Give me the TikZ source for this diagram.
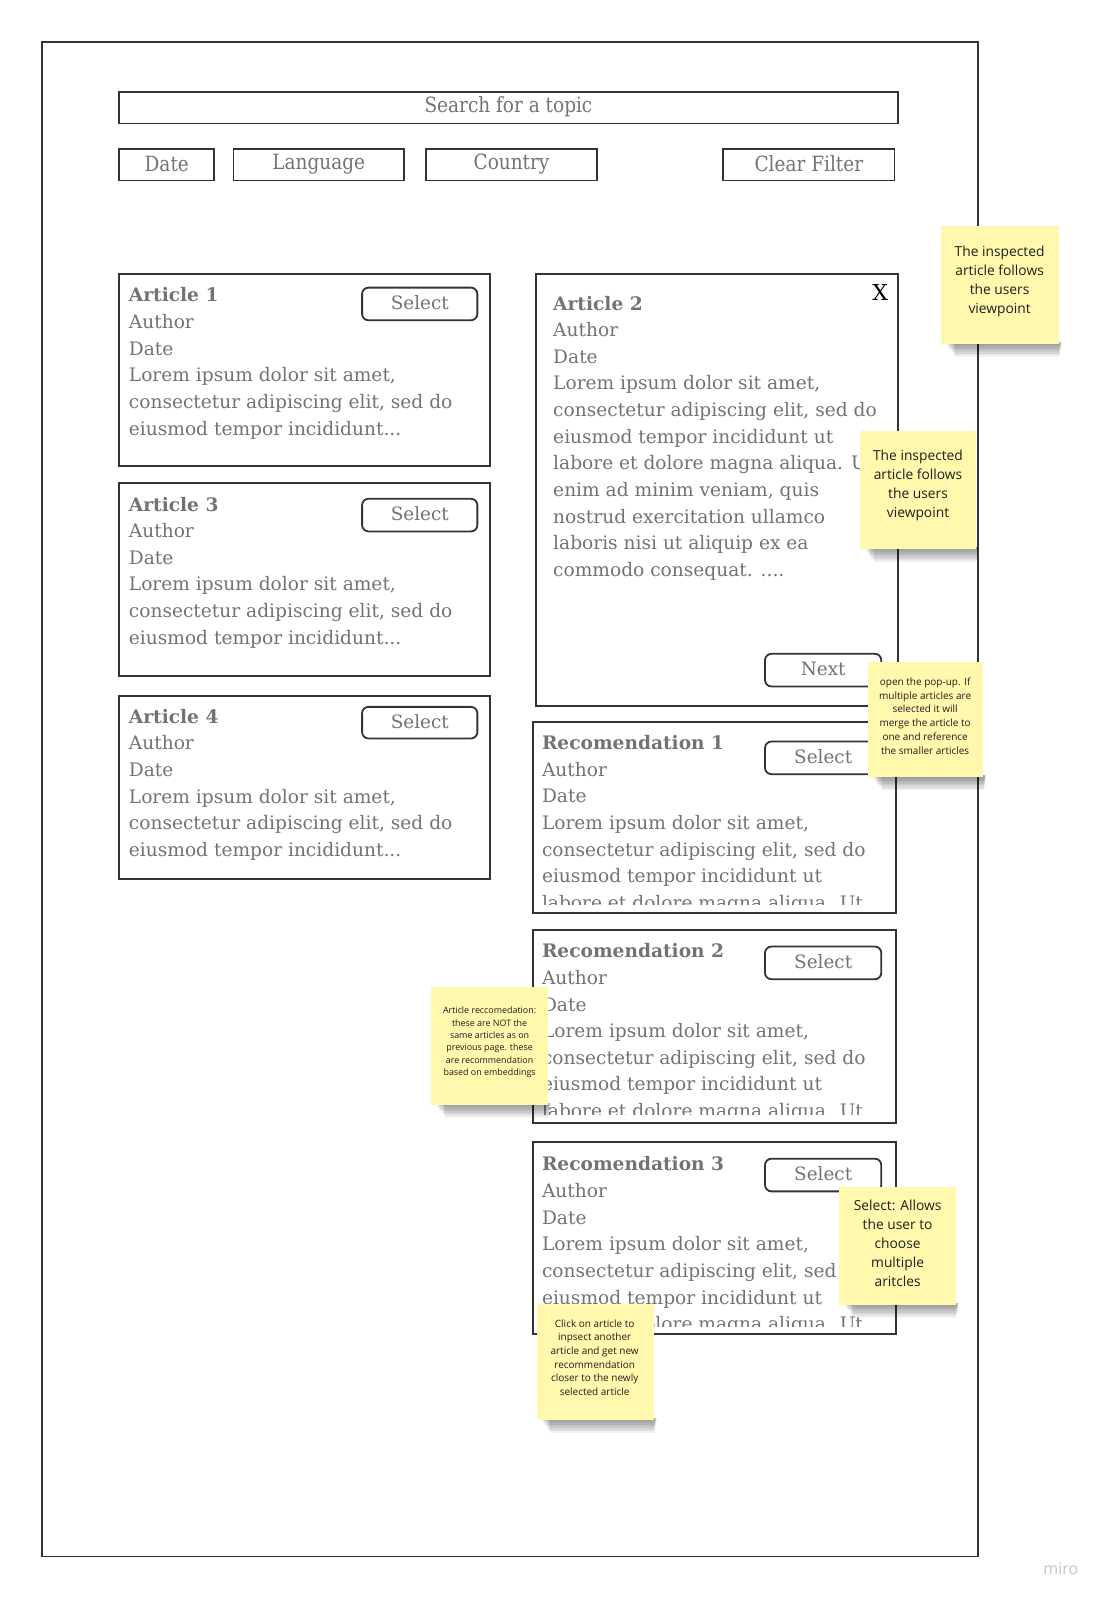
\documentclass[tikz,border=0pt]{standalone}
\usepackage{fontspec}
\setmainfont{DejaVu Serif}
\newfontfamily\notefont{Open Sans}
\newfontfamily\condfont[FakeStretch=0.88]{DejaVu Serif}
\usetikzlibrary{fit}
\definecolor{frame}{HTML}{333333}
\definecolor{txt}{HTML}{737373}
\definecolor{sticky}{HTML}{FFF8AD}
\definecolor{notetext}{HTML}{1E1E1E}
\definecolor{mirogray}{HTML}{C4C4C4}

\newcommand\cardtext[5]{%
  \node[cardtitle] (#1-t) at (#2,#3) {#4};
  \foreach \myline [count=\k] in {#5} {
    \node[cardtxt] (#1-\k) at (#2,{#3+26.1*\k}) {\myline};
  }%
}
\newcommand\stickynote[5]{%
  \foreach \k in {1,...,8} {
    \fill[black,opacity=0.055] ({#2+4+1.2*\k},{#5-2}) rectangle ({#4+3-0.3*\k},{#5+1.6*\k});
  }
  \node[note, fit={(#2,#3) (#4,#5)}] (#1) {};
}
% #1 name, #2 style, #3-#6 corners, #7 text
\newcommand\labelbox[7]{%
  \node[#2, fit={(#3,#4) (#5,#6)}] (#1) {};
  \node[#2txt] (#1-l) at ({(#3+#5)/2},{(#4+#6)/2-1}) {#7};
}

\begin{document}
\begin{tikzpicture}[x=0.51pt,y=-0.51pt,
  frm/.style={draw=frame, line width=0.8pt, inner sep=0pt, outer sep=0pt},
  card/.style={draw=frame, line width=1pt, fill=white, inner sep=0pt, outer sep=0pt},
  btn/.style={draw=frame, line width=0.9pt, rounded corners=3.2pt, fill=white, inner sep=0pt, outer sep=0pt},
  btntxt/.style={inner sep=0pt, text=txt, font=\fontsize{9.2}{11}\selectfont},
  filt/.style={draw=frame, line width=0.9pt, fill=white, inner sep=0pt, outer sep=0pt},
  filttxt/.style={inner sep=0pt, text=txt, font=\condfont\fontsize{10.5}{12}\selectfont},
  cardtxt/.style={anchor=base west, inner sep=0pt, text=txt, font=\fontsize{9.3}{11}\selectfont},
  cardtitle/.style={cardtxt, font=\bfseries\fontsize{9.3}{11}\selectfont},
  note/.style={fill=sticky, inner sep=0pt, outer sep=0pt},
  notetxt/.style={align=center, inner sep=0pt, text=notetext},
  bignote/.style={notetxt, font=\notefont\fontsize{6.9}{9.6}\selectfont},
  smallnote/.style={notetxt, font=\notefont\fontsize{5.0}{6.85}\selectfont},
  tinynote/.style={notetxt, font=\notefont\fontsize{4.45}{6.2}\selectfont}
]
\fill[white] (0,0) rectangle (1082.35,1568.63);
\useasboundingbox (0,0) rectangle (1082.35,1568.63);

% outer frame
\node[frm, fit={(41,41) (959,1526)}] (outer) {};

% search and filters
\labelbox{search}{filt}{117}{90}{880}{121}{Search for a topic}
\labelbox{fdate}{filt}{117}{146}{210}{177}{Date}
\labelbox{flang}{filt}{229}{146}{396}{177}{Language}
\labelbox{fcountry}{filt}{418}{146}{585}{177}{Country}
\labelbox{fclear}{filt}{709}{146}{877}{177}{Clear Filter}

% Article 1
\node[card, fit={(117,269) (480,457)}] (a1) {};
\cardtext{a1t}{126}{296}{Article 1}{Author, Date, {Lorem ipsum dolor sit amet,}, {consectetur adipiscing elit, sed do}, {eiusmod tempor incididunt{...}}}
\labelbox{a1s}{btn}{355}{282}{468}{314}{Select}

% Article 3
\node[card, fit={(117,474) (480,663)}] (a3) {};
\cardtext{a3t}{126}{501}{Article 3}{Author, Date, {Lorem ipsum dolor sit amet,}, {consectetur adipiscing elit, sed do}, {eiusmod tempor incididunt{...}}}
\labelbox{a3s}{btn}{355}{489}{468}{521}{Select}

% Article 4
\node[card, fit={(117,682) (480,862)}] (a4) {};
\cardtext{a4t}{126}{709}{Article 4}{Author, Date, {Lorem ipsum dolor sit amet,}, {consectetur adipiscing elit, sed do}, {eiusmod tempor incididunt{...}}}
\labelbox{a4s}{btn}{355}{693}{468}{724}{Select}

% Article 2 (pop-up)
\node[card, fit={(525,269) (880,692)}] (a2) {};
\cardtext{a2t}{542}{304}{Article 2}{Author, Date, {Lorem ipsum dolor sit amet,}, {consectetur adipiscing elit, sed do}, {eiusmod tempor incididunt ut}, {labore et dolore magna aliqua. Ut}, {enim ad minim veniam, quis}, {nostrud exercitation ullamco}, {laboris nisi ut aliquip ex ea}, {commodo consequat. {....}}}
\node[inner sep=0pt, text=black, font=\fontsize{11}{13}\selectfont] (a2x) at (863,287) {X};
\labelbox{a2n}{btn}{750}{641}{864}{673}{Next}

% Recommendation 1
\node[card, fit={(523,708) (878,895)}] (r1) {};
\begin{scope}
\clip (524,709) rectangle (877,887);
\cardtext{r1t}{531}{735}{Recomendation 1}{Author, Date, {Lorem ipsum dolor sit amet,}, {consectetur adipiscing elit, sed do}, {eiusmod tempor incididunt ut}, {labore et dolore magna aliqua. Ut}}
\end{scope}
\labelbox{r1s}{btn}{750}{727}{864}{759}{Select}

% Recommendation 2
\node[card, fit={(523,912) (878,1101)}] (r2) {};
\begin{scope}
\clip (524,913) rectangle (877,1093);
\cardtext{r2t}{531}{939}{Recomendation 2}{Author, Date, {Lorem ipsum dolor sit amet,}, {consectetur adipiscing elit, sed do}, {eiusmod tempor incididunt ut}, {labore et dolore magna aliqua. Ut}}
\end{scope}
\labelbox{r2s}{btn}{750}{928}{864}{960}{Select}

% Recommendation 3
\node[card, fit={(523,1120) (878,1308)}] (r3) {};
\begin{scope}
\clip (524,1121) rectangle (877,1300);
\cardtext{r3t}{531}{1148}{Recomendation 3}{Author, Date, {Lorem ipsum dolor sit amet,}, {consectetur adipiscing elit, sed do}, {eiusmod tempor incididunt ut}, {labore et dolore magna aliqua. Ut}}
\end{scope}
\labelbox{r3s}{btn}{750}{1136}{864}{1168}{Select}

% sticky notes
\stickynote{s1}{923}{222}{1038}{337}
\node[bignote] (s1t) at (980,276) {The inspected\\article follows\\the users\\viewpoint};
\stickynote{s2}{843}{423}{957}{538}
\node[bignote] (s2t) at (900,476) {The inspected\\article follows\\the users\\viewpoint};
\stickynote{s3}{851}{649}{964}{762}
\node[smallnote] (s3t) at (907,702) {open the pop-up. If\\multiple articles are\\selected it will\\merge the article to\\one and reference\\the smaller articles};
\stickynote{s4}{423}{968}{537}{1083}
\node[tinynote] (s4t) at (480,1022) {Article reccomedation:\\these are NOT the\\same articles as on\\previous page. these\\are recommendation\\based on embeddings};
\stickynote{s5}{823}{1164}{937}{1279}
\node[bignote] (s5t) at (880,1219) {Select: Allows\\the user to\\choose\\multiple\\aritcles};
\stickynote{s6}{526}{1278}{641}{1392}
\node[smallnote] (s6t) at (583,1331) {Click on article to\\inpsect another\\article and get new\\recommendation\\closer to the newly\\selected article};

% watermark
\node[inner sep=0pt, text=mirogray, font=\notefont\fontsize{8}{9}\selectfont] (miro) at (1040,1538) {miro};
\end{tikzpicture}
\end{document}
